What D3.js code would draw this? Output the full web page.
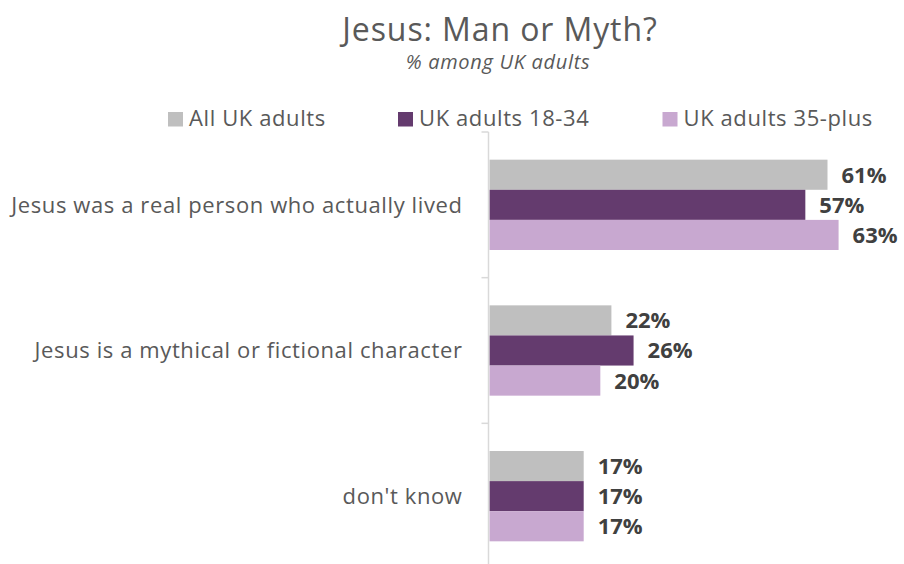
<!DOCTYPE html>
<html><head><meta charset="utf-8">
<script src="https://cdn.jsdelivr.net/npm/d3@7"></script>
<style>body{margin:0;background:#fff}svg{display:block;font-family:"Open Sans",sans-serif}</style>
</head><body><svg id="c" width="904" height="564"></svg>
<script>
const categories = ["Jesus was a real person who actually lived","Jesus is a mythical or fictional character","don't know"];
const seriesNames = ["All UK adults","UK adults 18-34","UK adults 35-plus"];
const allAdults = [61,22,17];
const adults1834 = [57,26,17];
const adults35plus = [63,20,17];
const colors = ["#bfbfbf","#643b6e","#c8a8d0"];
const seriesValues = [allAdults, adults1834, adults35plus];

const svg = d3.select("#c");
const x0 = 489.5;
const x = d3.scaleLinear().domain([0,61]).range([x0, 827.5]);
const y0 = d3.scaleBand().domain(categories).range([132, 569]).padding(0);
const bw = y0.bandwidth();
const y1 = d3.scaleBand().domain(seriesNames).range([bw*0.19, bw*0.81]).padding(0);

// title
svg.append("text").attr("x",500).attr("y",41).attr("text-anchor","middle")
  .attr("font-size",32).attr("letter-spacing",0.9).attr("fill","#595959").text("Jesus: Man or Myth?");
svg.append("text").attr("x",498).attr("y",69).attr("text-anchor","middle")
  .attr("font-size",20).attr("letter-spacing",0.7).attr("font-style","italic").attr("fill","#595959").text("% among UK adults");

// legend
const legX = [168,398,662.5];
seriesNames.forEach((s,i)=>{
  svg.append("rect").attr("x",legX[i]).attr("y",112).attr("width",15).attr("height",14.5).attr("fill",colors[i]);
  svg.append("text").attr("x",legX[i]+21).attr("y",126).attr("font-size",22).attr("letter-spacing",0.6)
    .attr("fill","#595959").text(s);
});

// bars
categories.forEach((c,ci)=>{
  seriesNames.forEach((s,si)=>{
    const v = seriesValues[si][ci];
    const yy = y0(c)+y1(s);
    svg.append("rect").attr("x",x(0)).attr("y",yy).attr("width",x(v)-x(0)).attr("height",y1.bandwidth())
      .attr("fill",colors[si]);
    svg.append("text").attr("x",x(v)+14).attr("y",yy+y1.bandwidth()/2).attr("dy","0.36em")
      .attr("font-size",22).attr("font-weight","bold").attr("fill","#404040").text(v+"%");
  });
  svg.append("text").attr("x",462.5).attr("y",y0(c)+bw/2).attr("dy","0.36em").attr("text-anchor","end")
    .attr("font-size",22).attr("letter-spacing",0.6).attr("fill","#595959").text(c);
});

// axis
svg.append("line").attr("x1",x0-1).attr("x2",x0-1).attr("y1",132).attr("y2",569).attr("stroke","#d9d9d9").attr("stroke-width",1.5);
const bounds = categories.map(c=>y0(c)).concat([y0.range()[1]]);
bounds.forEach(b=>{
  svg.append("line").attr("x1",x0-8).attr("x2",x0-1).attr("y1",b).attr("y2",b).attr("stroke","#d9d9d9").attr("stroke-width",1.5);
});
</script></body></html>
